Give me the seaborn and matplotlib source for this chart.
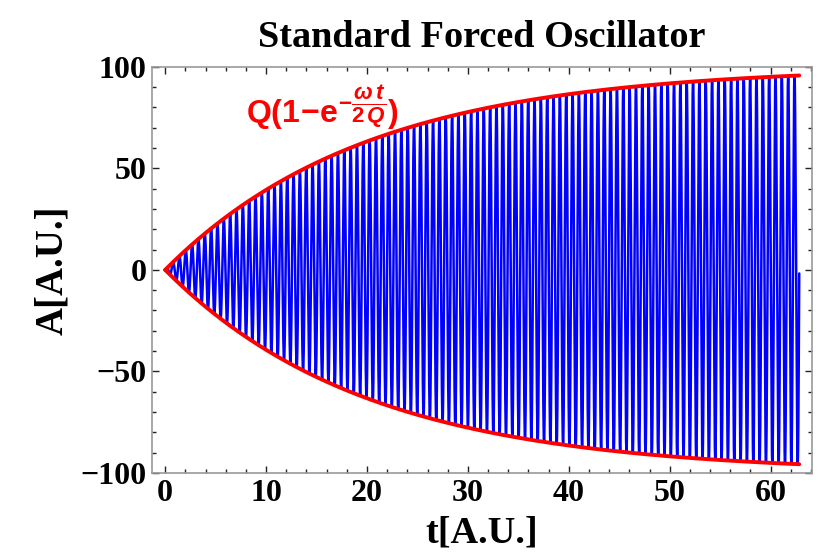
import numpy as np
import pandas as pd
import matplotlib
matplotlib.use("Agg")
import matplotlib.pyplot as plt
import seaborn as sns
from matplotlib.ticker import MultipleLocator

# values (the curve is the function named in the red label)
quality = 100.0          # Q: envelope tends to 100
omega = 10.0             # about 100 cycles over the run
t_end = 62.83            # curve stops at t = 20*pi
x_ticks = [0, 10, 20, 30, 40, 50, 60]
y_ticks = [-100, -50, 0, 50, 100]
title = "Standard Forced Oscillator"
x_label = "t[A.U.]"
y_label = "A[A.U.]"

t = np.linspace(0, t_end, 40001)
envelope = quality * (1 - np.exp(-omega * t / (2 * quality)))
df = pd.DataFrame({"t": t, "A": envelope * np.sin(omega * t),
                   "upper": envelope, "lower": -envelope})

sns.set_style("ticks")
plt.rcParams["font.family"] = ["Liberation Serif", "DejaVu Serif"]
plt.rcParams["text.color"] = "black"
plt.rcParams["axes.labelcolor"] = "black"
plt.rcParams["xtick.color"] = "black"
plt.rcParams["ytick.color"] = "black"
plt.rcParams["mathtext.fontset"] = "custom"
plt.rcParams["mathtext.bf"] = "Liberation Sans:bold"
plt.rcParams["mathtext.rm"] = "Liberation Sans:bold"
plt.rcParams["mathtext.it"] = "Liberation Sans:bold:italic"

fig = plt.figure(figsize=(8.24, 5.54), dpi=100)
ax = fig.add_axes([0.1845, 0.1462, 0.801, 0.7334])

sns.lineplot(data=df, x="t", y="A", color="#0000ff", lw=1.8,
             estimator=None, sort=False, ax=ax)
sns.lineplot(data=df, x="t", y="upper", color="#ff0000", lw=2.8,
             estimator=None, sort=False, ax=ax)
sns.lineplot(data=df, x="t", y="lower", color="#ff0000", lw=2.8,
             estimator=None, sort=False, ax=ax)

ax.set_xlim(-1.3, 64.1)
ax.set_ylim(-100, 100)
ax.set_xticks(x_ticks)
ax.set_yticks(y_ticks)
ax.set_yticklabels(["\u2212100", "\u221250", "0", "50", "100"])
ax.xaxis.set_minor_locator(MultipleLocator(2))
ax.yaxis.set_minor_locator(MultipleLocator(10))
ax.tick_params(which="both", direction="in", top=True, right=True,
               color="#222222", width=1)
ax.tick_params(which="major", length=5, labelsize=23, pad=4)
ax.tick_params(which="minor", length=3)
for lab in ax.get_xticklabels() + ax.get_yticklabels():
    lab.set_fontweight("bold")
for sp in ax.spines.values():
    sp.set_color("#999999")
    sp.set_linewidth(1.2)

ax.set_xlabel(x_label, fontsize=27.5, fontweight="bold", labelpad=6)
ax.set_ylabel(y_label, fontsize=28, fontweight="bold", labelpad=7)
ax.set_title(title, fontsize=27.5, fontweight="bold", pad=14)

ax.text(8.0, 80, r"$\mathbf{Q(1\!-\!e}^{-\dfrac{\omega\, t}{2\, Q}}\mathbf{)}$",
        color="#ff0000", fontsize=23, ha="left", va="center")

fig.savefig("out.png", dpi=100)
